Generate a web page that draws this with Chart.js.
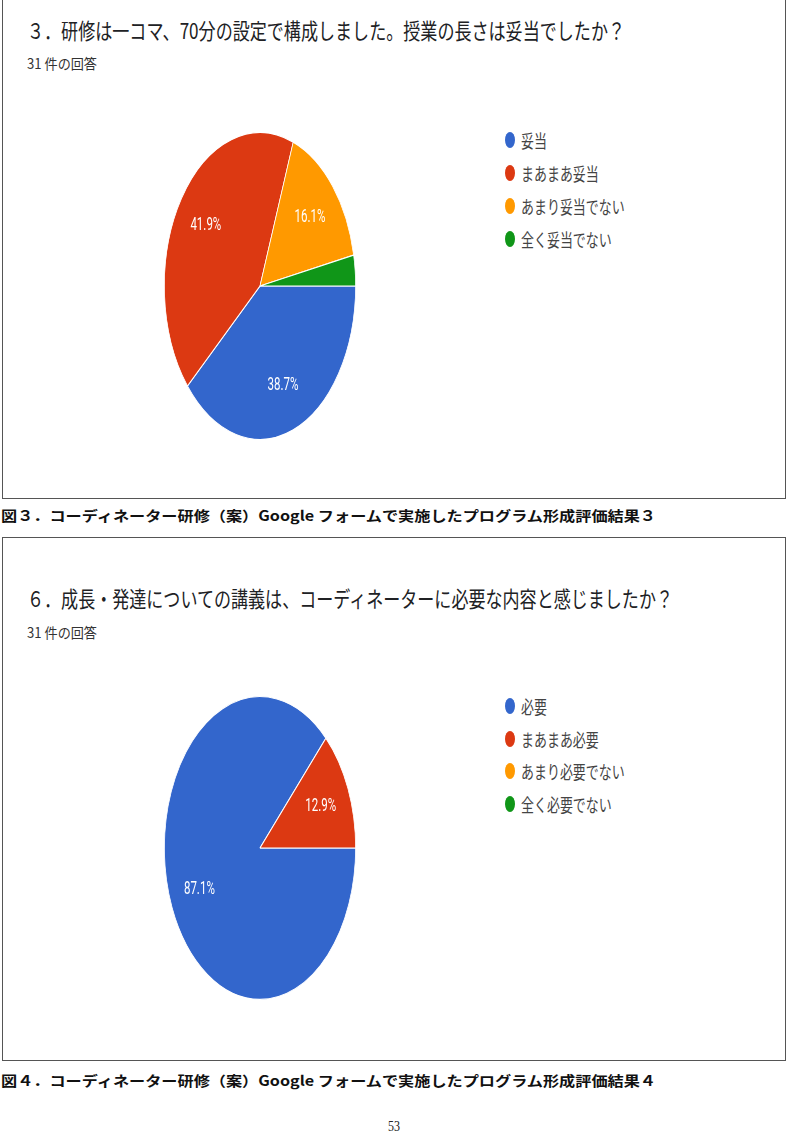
<!DOCTYPE html>
<html><head><meta charset="utf-8">
<script src="https://cdn.jsdelivr.net/npm/chart.js@4/dist/chart.umd.min.js"></script>
<style>
html,body{margin:0;padding:0;background:#fff;}
body{width:788px;height:1146px;position:relative;overflow:hidden;font-family:"Noto Sans CJK JP","Noto Sans",sans-serif;}
.box{position:absolute;border:1.5px solid #555;box-sizing:border-box;}
.fit{position:absolute;white-space:nowrap;transform-origin:0 50%;line-height:1;}
.title{font-size:22px;color:#202124;}
.sub{font-size:14px;color:#333;}
.cap{font-size:14px;font-weight:bold;color:#111;}
.leg{position:absolute;font-size:18px;color:#444;white-space:nowrap;line-height:1;}
.dot{position:absolute;width:10px;height:16px;border-radius:50%;}
canvas{position:absolute;}
</style></head><body>

<script>
// ---- data ----
const title1 = "３．研修は一コマ、70分の設定で構成しました。授業の長さは妥当でしたか？";
const labels1 = ["妥当","まあまあ妥当","あまり妥当でない","全く妥当でない"];
const values1 = [12,13,5,1];
const title2 = "６．成長・発達についての講義は、コーディネーターに必要な内容と感じましたか？";
const labels2 = ["必要","まあまあ必要","あまり必要でない","全く必要でない"];
const values2 = [27,4,0,0];
const responses = "31 件の回答";
const caption1 = "図３．コーディネーター研修（案）Google フォームで実施したプログラム形成評価結果３";
const caption2 = "図４．コーディネーター研修（案）Google フォームで実施したプログラム形成評価結果４";
const pageNo = "53";
const colors = ["#3366cc","#dc3912","#ff9900","#109618"];

function addFit(text, cls, x, yCenter, width){
  const d=document.createElement('div');
  d.className='fit '+cls; d.textContent=text;
  document.body.appendChild(d);
  const w=d.getBoundingClientRect().width, h=d.getBoundingClientRect().height;
  d.style.left=x+'px'; d.style.top=(yCenter-h/2)+'px';
  d.style.transform='scaleX('+(width/w)+')';
  return d;
}
function addBox(l,t,r,b){
  const d=document.createElement('div'); d.className='box';
  d.style.left=l+'px'; d.style.top=t+'px'; d.style.width=(r-l)+'px'; d.style.height=(b-t)+'px';
  document.body.appendChild(d);
}
function addLegend(labels, x, y0, step){
  labels.forEach((t,i)=>{
    const dot=document.createElement('div'); dot.className='dot';
    dot.style.background=colors[i]; dot.style.left=(x-5)+'px'; dot.style.top=(y0+i*step-8)+'px';
    document.body.appendChild(dot);
    const s=document.createElement('div'); s.className='leg'; s.textContent=t;
    document.body.appendChild(s);
    const h=s.getBoundingClientRect().height;
    s.style.left=(x+11)+'px'; s.style.top=(y0+i*step-h/2)+'px';
    s.style.transformOrigin='0 50%'; s.style.transform='scaleX(0.72)';
  });
}

const ellipsePlugin = {
  id:'ellipse',
  beforeDatasetsDraw(chart){
    const ctx=chart.ctx, a=chart.chartArea, cx=(a.left+a.right)/2;
    ctx.save(); ctx.translate(cx,0); ctx.scale(chart.options.plugins.ellipse.sx,1); ctx.translate(-cx,0);
  },
  afterDatasetsDraw(chart){
    const ctx=chart.ctx; ctx.restore();
    const sx=chart.options.plugins.ellipse.sx;
    const meta=chart.getDatasetMeta(0);
    const data=chart.data.datasets[0].data;
    const total=data.reduce((s,v)=>s+v,0);
    meta.data.forEach((arc,i)=>{
      if(!data[i] || data[i]/total<0.05) return;
      const p=arc.getProps(['x','y','startAngle','endAngle','outerRadius'],true);
      const mid=(p.startAngle+p.endAngle)/2, r=p.outerRadius*0.69;
      const x=p.x+Math.cos(mid)*r*sx, y=p.y+Math.sin(mid)*r;
      ctx.save(); ctx.translate(x,y); ctx.scale(0.64,1);
      ctx.fillStyle='#fff'; ctx.font='18px Roboto, "Noto Sans", sans-serif';
      ctx.textAlign='center'; ctx.textBaseline='middle';
      ctx.fillText((data[i]/total*100).toFixed(1)+'%',0,0);
      ctx.restore();
    });
  }
};

function addPie(labels, values, cx, cy, rx, ry){
  const pad=4, size=2*ry+2*pad;
  const c=document.createElement('canvas');
  c.width=size; c.height=size;
  c.style.left=(cx-size/2)+'px'; c.style.top=(cy-size/2)+'px';
  c.style.width=size+'px'; c.style.height=size+'px';
  document.body.appendChild(c);
  new Chart(c,{
    type:'pie',
    data:{labels:labels,datasets:[{data:values,backgroundColor:colors,borderColor:'#fff',borderWidth:1.2}]},
    options:{responsive:false,animation:false,rotation:90,
      layout:{padding:pad},
      events:[],
      plugins:{legend:{display:false},tooltip:{enabled:false},ellipse:{sx:rx/ry}}},
    plugins:[ellipsePlugin]
  });
}

addBox(2,-4,786,499);
addBox(2,537,786,1061);

addFit(title1,'title',27,29,598);
addFit(responses,'sub',27,63,70);
addLegend(labels1,510,140,33);
addPie(labels1,values1,260,286,96,154);
addFit(caption1,'cap',1,515,655);

addFit(title2,'title',27,597,646);
addFit(responses,'sub',27,632,70);
addLegend(labels2,510,706,32.5);
addPie(labels2,values2,260,848,96,152);
addFit(caption2,'cap',1,1080,655);

const pn=document.createElement('div');
pn.textContent=pageNo;
pn.style.cssText='position:absolute;left:0;width:788px;text-align:center;top:1118px;font-family:"Liberation Serif","DejaVu Serif",serif;font-size:15px;color:#222;transform:scaleX(0.8);';
document.body.appendChild(pn);
</script>
</body></html>
